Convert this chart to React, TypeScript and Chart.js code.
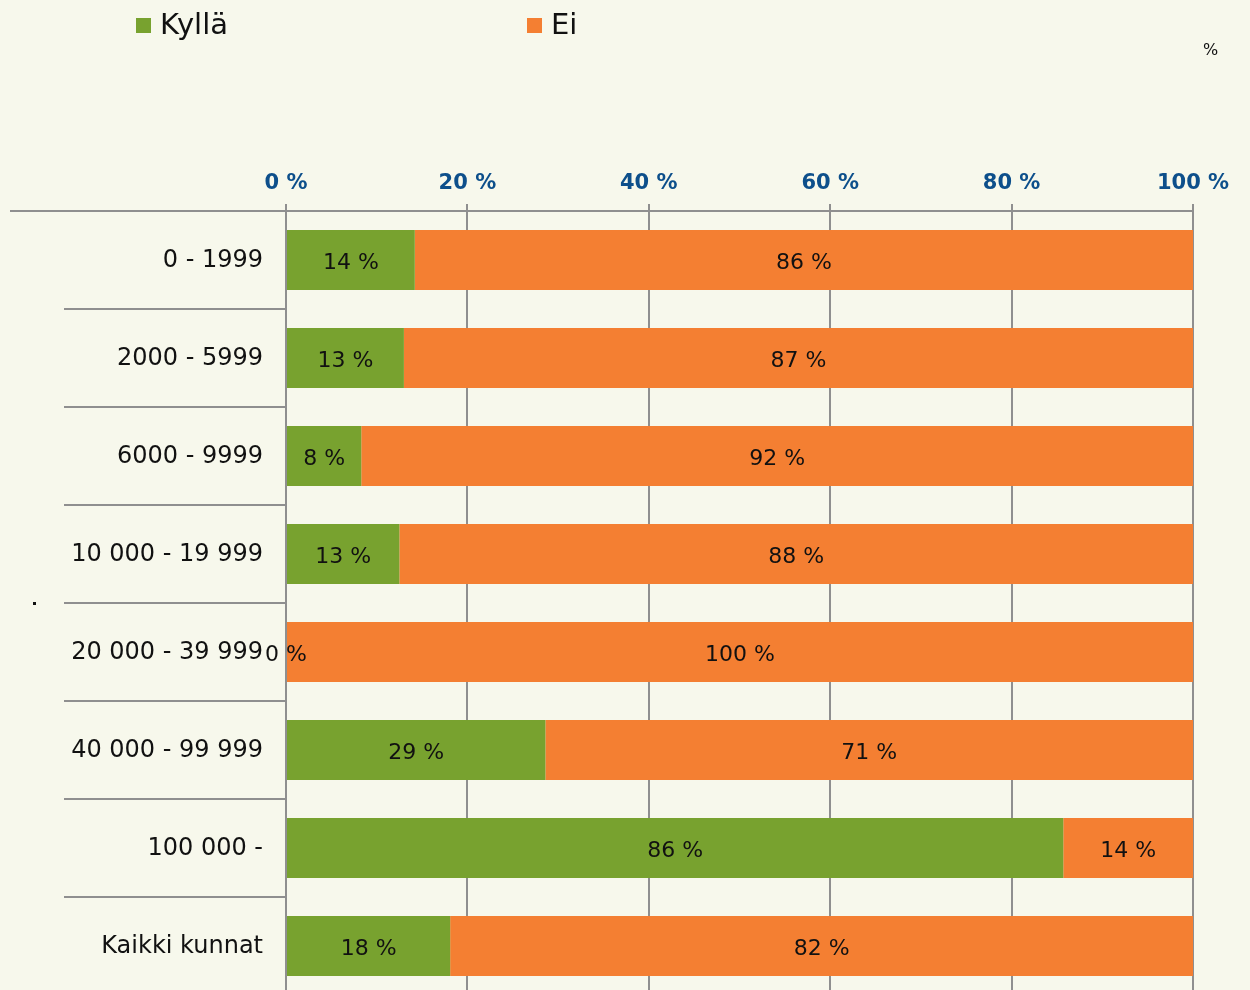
import React, { useEffect, useRef } from "react";
import { Chart, registerables } from "chart.js";

Chart.register(...registerables);

const categories = [
  "0 - 1999",
  "2000 - 5999",
  "6000 - 9999",
  "10 000 - 19 999",
  "20 000 - 39 999",
  "40 000 - 99 999",
  "100 000 -",
  "Kaikki kunnat",
];
const kyllaValues = [14.2, 13.0, 8.3, 12.5, 0, 28.6, 85.7, 18.1];
const eiValues = [85.8, 87.0, 91.7, 87.5, 100, 71.4, 14.3, 81.9];
const seriesNames = ["Kyllä", "Ei"];
const xTicks = [0, 20, 40, 60, 80, 100];

const GREEN = "#78a22f";
const ORANGE = "#f47f32";
const BG = "#f7f8ec";
const GRID = "#8f8f8f";
const FONT = "'DejaVu Sans', Verdana, sans-serif";

const overlayPlugin = {
  id: "overlay",
  beforeDraw(chart: any) {
    const ctx = chart.ctx;
    ctx.save();
    ctx.fillStyle = BG;
    ctx.fillRect(0, 0, chart.width, chart.height);
    ctx.restore();
  },
  afterDatasetsDraw(chart: any) {
    const ctx = chart.ctx;
    const y = chart.scales.y;
    const area = chart.chartArea;
    ctx.save();
    // separators in label area
    ctx.strokeStyle = GRID;
    ctx.lineWidth = 2;
    ctx.beginPath();
    ctx.moveTo(10, area.top);
    ctx.lineTo(area.left, area.top);
    for (let i = 0; i < categories.length - 1; i++) {
      const yy = (y.getPixelForValue(i) + y.getPixelForValue(i + 1)) / 2;
      ctx.moveTo(64, yy);
      ctx.lineTo(area.left, yy);
    }
    ctx.stroke();
    // category labels
    ctx.fillStyle = "#111";
    ctx.font = `24px ${FONT}`;
    ctx.textAlign = "right";
    ctx.textBaseline = "middle";
    categories.forEach((c, i) => {
      ctx.fillText(c, 263, y.getPixelForValue(i) + 1);
    });
    // data labels
    ctx.font = `22px ${FONT}`;
    ctx.textAlign = "center";
    chart.data.datasets.forEach((ds: any, di: number) => {
      const meta = chart.getDatasetMeta(di);
      meta.data.forEach((bar: any, i: number) => {
        const v = ds.data[i];
        const left = Math.min(bar.x, bar.base);
        const right = Math.max(bar.x, bar.base);
        ctx.fillText(`${Math.round(v)} %`, (left + right) / 2, bar.y + 3);
      });
    });
    // legend
    ctx.textAlign = "left";
    ctx.font = `29px ${FONT}`;
    const legendX = [136, 527];
    const colors = [GREEN, ORANGE];
    seriesNames.forEach((n, i) => {
      ctx.fillStyle = colors[i];
      ctx.fillRect(legendX[i], 18, 15, 15);
      ctx.fillStyle = "#111";
      ctx.fillText(n, legendX[i] + 24, 26);
    });
    // stray marks
    ctx.font = `16px ${FONT}`;
    ctx.fillText("%", 1203, 51);
    ctx.fillRect(33, 602, 3, 3);
    ctx.restore();
  },
};

export default function App() {
  const ref = useRef<HTMLCanvasElement>(null);
  useEffect(() => {
    if (!ref.current) return;
    const chart = new Chart(ref.current, {
      type: "bar",
      data: {
        labels: categories,
        datasets: [
          { label: seriesNames[0], data: kyllaValues, backgroundColor: GREEN, barPercentage: 0.612, categoryPercentage: 1 },
          { label: seriesNames[1], data: eiValues, backgroundColor: ORANGE, barPercentage: 0.612, categoryPercentage: 1 },
        ],
      },
      options: {
        indexAxis: "y",
        animation: false,
        responsive: false,
        maintainAspectRatio: false,
        layout: { padding: { left: 286, right: 57, top: 0, bottom: 5 } },
        plugins: { legend: { display: false }, tooltip: { enabled: false } },
        scales: {
          x: {
            position: "top",
            stacked: true,
            min: 0,
            max: 100,
            afterBuildTicks: (s: any) => {
              s.ticks = xTicks.map((v) => ({ value: v }));
            },
            afterFit: (s: any) => {
              s.height = 211;
            },
            ticks: {
              callback: (v: any) => `${v} %`,
              color: "#0d4f8b",
              font: { family: FONT, size: 21, weight: "bold" },
              padding: 8,
              maxRotation: 0,
            },
            grid: { color: GRID, lineWidth: 2, tickLength: 7, drawTicks: true },
            border: { color: GRID, width: 2 },
          },
          y: {
            stacked: true,
            display: false,
            grid: { display: false },
          },
        },
      },
      plugins: [overlayPlugin],
    });
    return () => chart.destroy();
  }, []);
  return (
    <div style={{ position: "fixed", left: 0, top: 0, width: 1250, height: 990, overflow: "hidden", background: BG }}>
      <canvas ref={ref} width={1250} height={1000} style={{ display: "block", width: 1250, height: 1000 }} />
    </div>
  );
}
